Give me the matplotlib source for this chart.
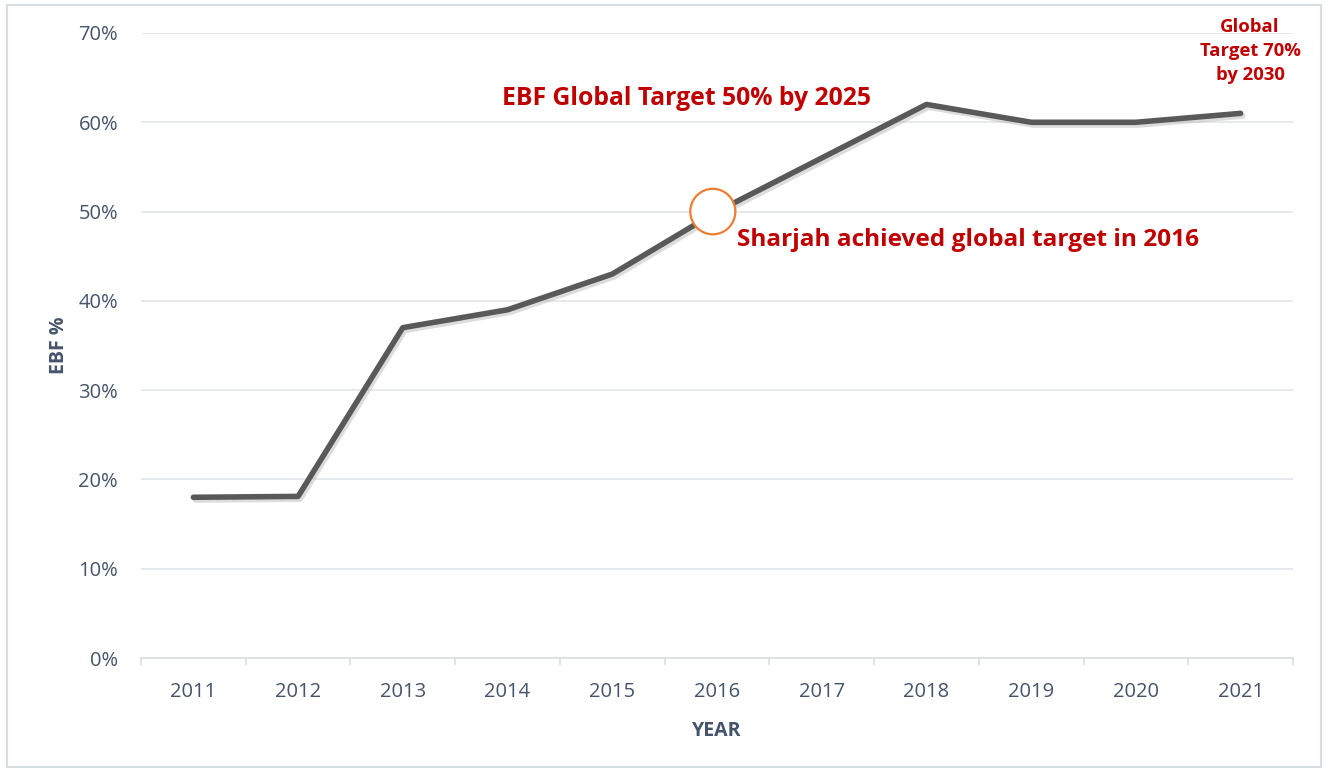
import matplotlib
matplotlib.use("Agg")
import matplotlib.pyplot as plt
import matplotlib.patheffects as pe
from matplotlib.patches import Ellipse, Rectangle
from matplotlib.ticker import FixedLocator, PercentFormatter

years = ["2011", "2012", "2013", "2014", "2015", "2016", "2017", "2018", "2019", "2020", "2021"]
ebf = [0.18, 0.181, 0.37, 0.39, 0.43, 0.50, 0.56, 0.62, 0.60, 0.60, 0.61]
yticks = [0, 0.1, 0.2, 0.3, 0.4, 0.5, 0.6, 0.7]

plt.rcParams['font.family'] = ['Open Sans', 'DejaVu Sans']
txt = '#44546A'
red = '#C00000'

fig = plt.figure(figsize=(13.3, 7.71), dpi=100)
fig.patches.append(Rectangle((7/1330, 4/771), 1314/1330, 762/771, transform=fig.transFigure,
                             fill=False, edgecolor='#D9DEE4', linewidth=1.5))
ax = fig.add_axes([141/1330, 1-658/771, 1152/1330, 625/771])
x = list(range(len(years)))
ax.plot(x, ebf, color='#595959', linewidth=4, solid_capstyle='round', solid_joinstyle='round',
        path_effects=[pe.SimpleLineShadow(offset=(1.5, -2), shadow_color='#BBBBBB', alpha=0.5),
                      pe.Normal()], zorder=3)
ax.set_xlim(-0.5, len(years) - 0.5)
ax.set_ylim(0, 0.7)
ax.set_yticks(yticks)
ax.yaxis.set_major_formatter(PercentFormatter(1.0, decimals=0))
ax.set_xticks(x)
ax.set_xticklabels(years)
ax.xaxis.set_minor_locator(FixedLocator([i - 0.5 for i in range(len(years) + 1)]))
ax.tick_params(axis='x', which='major', length=0, pad=17.5, labelsize=14.5, labelcolor=txt)
ax.tick_params(axis='x', which='minor', length=5, width=1.2, color='#D9DEE4')
ax.tick_params(axis='y', length=0, pad=16.5, labelsize=14.5, labelcolor=txt)
ax.grid(axis='y', color='#E1E5EA', linewidth=1.2)
ax.set_axisbelow(True)
for s in ['top', 'right', 'left']:
    ax.spines[s].set_visible(False)
ax.spines['bottom'].set_color('#D9DEE4')
ax.spines['bottom'].set_linewidth(1.2)

ax.set_ylabel('EBF %', fontsize=14, fontweight='bold', color=txt, labelpad=7)
ax.set_xlabel('YEAR', fontsize=14, fontweight='bold', color=txt, labelpad=13.5)

# circle marker (data-anchored)
ax.add_patch(Ellipse((5 - 0.04, 0.50), width=0.43, height=0.051, facecolor='white',
                     edgecolor='#ED7D31', linewidth=1.6, zorder=4))

ax.text(4.705, 0.627, 'EBF Global Target 50% by 2025', color=red, fontsize=17.8, fontweight='bold',
        ha='center', va='center')
ax.text(5.19, 0.468, 'Sharjah achieved global target in 2016', color=red, fontsize=17.6,
        fontweight='bold', ha='left', va='center')
ax.text(10.09, 0.680, 'Global\nTarget 70%\nby 2030', color=red, fontsize=13.3, fontweight='bold',
        ha='center', va='center', linespacing=1.45)

fig.savefig('out.png', dpi=100, facecolor='white')
